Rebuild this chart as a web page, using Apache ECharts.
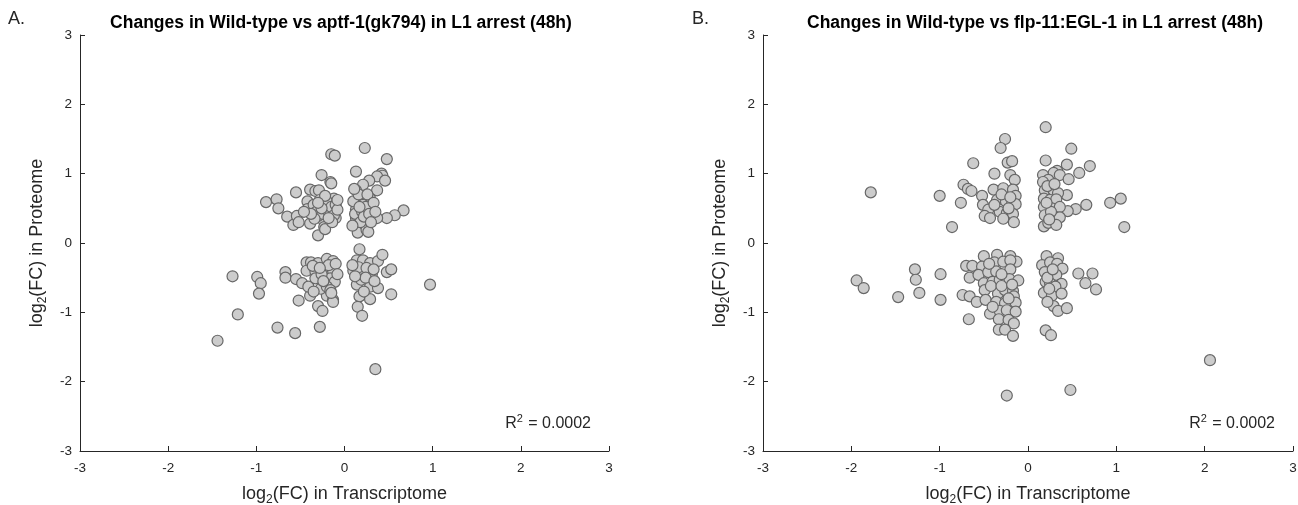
<!DOCTYPE html>
<html>
<head>
<meta charset="utf-8">
<title>Proteome vs transcriptome changes in L1 arrest</title>
<script src="https://cdn.jsdelivr.net/npm/echarts@6/dist/echarts.min.js"></script>
<style>
  html, body { margin: 0; padding: 0; background: #ffffff; }
  #chart { width: 1298px; height: 505px; }
</style>
</head>
<body>
<div id="chart"></div>
<script>
// log2 fold changes: [transcriptome, proteome] per gene
const wildVsAptf = [
  [-0.15,1.28],[-0.11,1.26],[0.23,1.37],[0.48,1.21],[-0.26,0.98],[-0.16,0.88],[-0.15,0.86],[0.13,1.03],
  [0.42,1.0],[0.43,0.97],[0.37,0.96],[0.46,0.90],[0.28,0.90],[0.21,0.84],[0.13,0.76],[0.37,0.76],
  [-0.55,0.73],[-0.39,0.77],[-0.33,0.75],[-0.29,0.76],[-0.89,0.59],[-0.77,0.63],[-0.75,0.50],[-0.65,0.38],
  [-0.58,0.26],[-0.54,0.39],[-0.30,0.11],[0.67,0.47],[0.57,0.40],[0.48,0.36],[0.37,0.36],[0.29,0.64],
  [0.31,0.49],[0.21,0.63],[0.21,0.55],[0.13,0.48],[0.13,0.36],[0.15,0.15],[0.25,0.19],[0.27,0.16],
  [-0.12,0.64],[-0.22,0.53],[-0.42,0.60],[-0.42,0.49],[-0.39,0.28],[-0.24,0.33],[-0.23,0.23],[-0.22,0.20],
  [-0.30,0.39],[-0.10,0.36],[-0.35,0.55],[-0.32,0.45],[-0.28,0.62],[-0.25,0.42],[-0.20,0.60],[-0.18,0.45],
  [-0.15,0.52],[-0.12,0.40],[-0.10,0.55],[-0.08,0.48],[-0.14,0.30],[-0.18,0.36],[-0.26,0.50],[-0.34,0.35],
  [-0.38,0.42],[-0.46,0.45],[-0.52,0.30],[-0.08,0.62],[-0.22,0.68],[-0.30,0.58],[0.10,0.60],[0.12,0.42],
  [0.16,0.70],[0.18,0.30],[0.20,0.45],[0.22,0.38],[0.24,0.52],[0.26,0.70],[0.28,0.42],[0.30,0.30],
  [0.33,0.58],[0.09,0.25],[0.17,0.52],[0.11,0.78],[0.35,0.45],
  [0.17,-0.09],[-1.27,-0.48],[-0.99,-0.49],[-0.95,-0.58],[-0.97,-0.73],[-1.21,-1.03],[-1.44,-1.41],[-0.76,-1.22],
  [-0.56,-1.30],[-0.28,-1.21],[0.35,-1.82],[0.97,-0.60],[-0.67,-0.42],[-0.67,-0.50],[-0.55,-0.52],[-0.52,-0.83],
  [-0.39,-0.76],[-0.48,-0.58],[-0.41,-0.63],[-0.30,-0.91],[-0.25,-0.98],[-0.20,-0.76],[-0.13,-0.82],[-0.27,-0.66],
  [-0.43,-0.28],[-0.38,-0.28],[-0.30,-0.29],[-0.20,-0.23],[-0.13,-0.26],[-0.43,-0.40],[-0.33,-0.41],[-0.22,-0.38],
  [-0.13,-0.40],[-0.33,-0.51],[-0.16,-0.51],[-0.11,-0.56],[-0.20,-0.63],[-0.16,-0.68],[-0.13,-0.85],[0.14,-0.25],
  [0.21,-0.25],[0.29,-0.29],[0.38,-0.26],[0.43,-0.17],[0.10,-0.40],[0.21,-0.43],[0.31,-0.45],[0.48,-0.42],
  [0.53,-0.38],[0.14,-0.60],[0.19,-0.53],[0.29,-0.63],[0.38,-0.65],[0.53,-0.74],[0.17,-0.77],[0.29,-0.81],
  [0.15,-0.92],[0.20,-1.05],[-0.36,-0.33],[-0.26,-0.45],[-0.18,-0.32],[-0.10,-0.30],[-0.24,-0.55],[-0.08,-0.45],
  [-0.28,-0.36],[-0.15,-0.72],[-0.35,-0.70],[0.16,-0.35],[0.25,-0.36],[0.33,-0.38],[0.24,-0.50],[0.12,-0.48],
  [0.34,-0.55],[0.22,-0.70],[0.09,-0.32]
];

const wildVsFlp = [
  [0.20,1.67],[-0.26,1.50],[-0.31,1.37],[0.49,1.36],[-0.62,1.15],[-0.23,1.16],[-0.18,1.18],[0.20,1.19],
  [0.44,1.13],[0.70,1.11],[0.58,1.01],[0.33,1.04],[0.29,1.01],[0.36,0.98],[0.17,0.98],[0.23,0.91],
  [0.46,0.92],[-1.78,0.73],[-1.0,0.68],[-0.76,0.58],[-0.86,0.23],[-0.38,1.0],[-0.20,0.98],[-0.15,0.91],
  [-0.73,0.84],[-0.68,0.78],[-0.64,0.75],[-0.52,0.68],[-0.39,0.77],[-0.28,0.79],[-0.17,0.77],[-0.14,0.68],
  [-0.35,0.62],[-0.25,0.60],[-0.18,0.57],[-0.14,0.56],[-0.51,0.55],[-0.45,0.48],[-0.49,0.39],[-0.43,0.36],
  [-0.32,0.45],[-0.24,0.43],[-0.17,0.42],[-0.16,0.30],[0.44,0.69],[0.66,0.55],[0.54,0.49],[0.45,0.46],
  [0.93,0.58],[1.05,0.64],[1.09,0.23],[0.17,0.88],[0.19,0.76],[0.29,0.76],[0.34,0.72],[0.18,0.64],
  [0.25,0.62],[0.32,0.63],[0.18,0.52],[0.27,0.50],[0.36,0.52],[0.19,0.40],[0.29,0.38],[0.36,0.37],
  [0.18,0.24],[0.23,0.29],[0.32,0.26],[-0.30,0.70],[-0.22,0.50],[-0.38,0.55],[-0.28,0.35],[-0.20,0.66],
  [0.22,0.82],[0.26,0.45],[0.21,0.58],[0.30,0.85],[0.24,0.34],
  [-1.94,-0.54],[-1.86,-0.65],[-1.28,-0.38],[-1.27,-0.53],[-1.23,-0.72],[-1.47,-0.78],[-0.99,-0.45],[-0.99,-0.82],
  [-0.74,-0.75],[-0.66,-0.77],[-0.67,-1.10],[-0.70,-0.33],[-0.63,-0.33],[-0.66,-0.50],[-0.50,-0.19],[-0.35,-0.17],
  [-0.20,-0.19],[-0.13,-0.27],[-0.52,-0.34],[-0.38,-0.28],[-0.28,-0.27],[-0.20,-0.25],[-0.56,-0.46],[-0.45,-0.42],
  [-0.36,-0.41],[-0.20,-0.38],[-0.50,-0.58],[-0.40,-0.56],[-0.32,-0.53],[-0.21,-0.52],[-0.11,-0.54],[-0.49,-0.68],
  [-0.34,-0.73],[-0.26,-0.68],[-0.17,-0.69],[-0.16,-0.77],[-0.58,-0.85],[-0.48,-0.82],[-0.36,-0.85],[-0.26,-0.87],
  [-0.14,-0.86],[-0.43,-1.02],[-0.32,-0.98],[-0.24,-0.97],[-0.14,-0.99],[-0.33,-1.10],[-0.22,-1.11],[-0.16,-1.16],
  [-0.33,-1.25],[-0.26,-1.25],[-0.17,-1.34],[0.21,-0.19],[0.34,-0.22],[0.16,-0.32],[0.25,-0.28],[0.33,-0.30],
  [0.39,-0.37],[0.19,-0.42],[0.32,-0.46],[0.20,-0.56],[0.25,-0.58],[0.38,-0.59],[0.31,-0.63],[0.18,-0.72],
  [0.27,-0.76],[0.38,-0.73],[0.29,-0.91],[0.34,-0.98],[0.44,-0.94],[0.20,-1.26],[0.26,-1.33],[0.57,-0.44],
  [0.73,-0.44],[0.65,-0.58],[0.77,-0.67],[-0.24,-2.2],[0.48,-2.12],[2.06,-1.69],[-0.42,-0.62],[-0.30,-0.62],
  [-0.44,-0.30],[-0.30,-0.45],[-0.18,-0.60],[-0.40,-0.92],[-0.22,-0.80],[0.22,-0.50],[0.28,-0.38],[0.24,-0.66],
  [0.22,-0.85]
];

const panelTitles = [
  'Changes in Wild-type vs aptf-1(gk794) in L1 arrest (48h)',
  'Changes in Wild-type vs flp-11:EGL-1 in L1 arrest (48h)'
];
const panelLetters = ['A.', 'B.'];
const rSquared = ['0.0002', '0.0002'];
const axisRange = { min: -3, max: 3, step: 1 };

const FONT = '"Liberation Sans", Arial, sans-serif';
const INK = '#262626';
const grids = [
  { left: 80, top: 35, width: 529, height: 416 },
  { left: 763, top: 35, width: 530, height: 416 }
];
const titleCentres = [336, 1030];

function valueAxis(gridIndex, name, isY) {
  return {
    type: 'value', gridIndex,
    min: axisRange.min, max: axisRange.max, interval: axisRange.step,
    name, nameLocation: 'middle', nameGap: isY ? 31 : 32,
    nameTextStyle: {
      fontFamily: FONT, fontSize: 18, color: INK,
      rich: {
        t: { fontFamily: FONT, fontSize: 18, color: INK },
        sub: { fontFamily: FONT, fontSize: 12, color: INK, padding: [11, 0, 0, 0] }
      }
    },
    axisLine: { show: true, onZero: false, lineStyle: { color: INK, width: 1 } },
    axisTick: { show: true, inside: true, length: 5, lineStyle: { color: INK, width: 1 } },
    axisLabel: { fontFamily: FONT, fontSize: 13.5, color: INK, margin: isY ? 8 : 10 },
    splitLine: { show: false }
  };
}

const chart = echarts.init(document.getElementById('chart'), null, { renderer: 'canvas' });

const xName = '{t|log}{sub|2}{t|(FC) in Transcriptome}';
const yName = '{t|log}{sub|2}{t|(FC) in Proteome}';

const option = {
  animation: false,
  backgroundColor: '#ffffff',
  grid: grids.map(g => Object.assign({ containLabel: false, outerBoundsMode: 'none' }, g)),
  title: panelTitles.map((t, i) => ({
    text: t,
    left: titleCentres[i],
    top: 9,
    textAlign: 'center',
    textStyle: { fontFamily: FONT, fontSize: 17.5, fontWeight: 'bold', color: '#000000' }
  })),
  xAxis: [valueAxis(0, xName, false), valueAxis(1, xName, false)],
  yAxis: [valueAxis(0, yName, true), valueAxis(1, yName, true)],
  series: [wildVsAptf, wildVsFlp].map((pts, i) => ({
    type: 'scatter',
    xAxisIndex: i, yAxisIndex: i,
    data: pts,
    symbol: 'circle',
    symbolSize: 11,
    itemStyle: { color: '#cccccc', borderColor: '#676767', borderWidth: 1.2, opacity: 1 },
    emphasis: { disabled: true }
  })),
  graphic: [
    ...panelLetters.map((l, i) => ({
      type: 'text',
      left: i === 0 ? 8 : 692,
      top: 10,
      style: { text: l, fontFamily: FONT, fontSize: 18, fill: INK }
    })),
    ...rSquared.map((r, i) => ({
      type: 'text',
      right: i === 0 ? 1298 - 591 : 1298 - 1275,
      top: 413,
      style: {
        text: '{t|R}{sup|2}{t| = ' + r + '}',
        rich: {
          t: { fontFamily: FONT, fontSize: 16, fill: INK },
          sup: { fontFamily: FONT, fontSize: 11, fill: INK, padding: [0, 1, 10, 0] }
        }
      }
    }))
  ]
};

chart.setOption(option);
</script>
</body>
</html>
